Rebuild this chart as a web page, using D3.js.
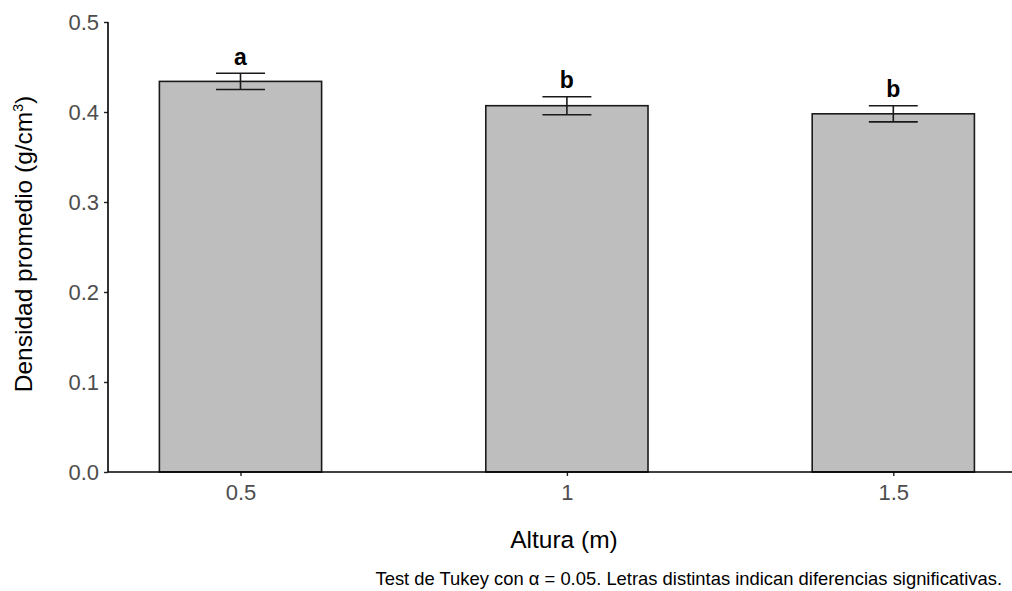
<!DOCTYPE html>
<html>
<head>
<meta charset="utf-8">
<script src="https://cdn.jsdelivr.net/npm/d3@7"></script>
<style>
  html, body { margin: 0; padding: 0; background: #fff; }
  svg { display: block; }
  text { font-family: "Liberation Sans", Arial, sans-serif; }
</style>
</head>
<body>
<svg id="chart" width="1012" height="591"></svg>
<script>
const categories = ["0.5", "1", "1.5"];
const means = [0.434, 0.407, 0.398];
const errors = [0.009, 0.010, 0.009];
const letters = ["a", "b", "b"];
const yTickValues = [0, 0.1, 0.2, 0.3, 0.4, 0.5];
const yTickLabels = ["0.0", "0.1", "0.2", "0.3", "0.4", "0.5"];
const xTitle = "Altura (m)";
const caption = "Test de Tukey con \u03B1 = 0.05. Letras distintas indican diferencias significativas.";

const data = categories.map((c, i) => ({ cat: c, mean: means[i], se: errors[i], letter: letters[i] }));

const svg = d3.select("#chart");
const axisX = 108, axisY = 472, topY = 22, rightX = 1012;

const x = d3.scalePoint().domain(categories).range([240.5, 893.3]);
const step = x.step();
const y = d3.scaleLinear().domain([0, 0.5]).range([axisY, topY]);

const barW = step * 0.497;
const capW = step * 0.15;

// bars
svg.append("g").selectAll("rect").data(data).join("rect")
  .attr("x", d => x(d.cat) - barW / 2)
  .attr("y", d => y(d.mean))
  .attr("width", barW)
  .attr("height", d => y(0) - y(d.mean))
  .attr("fill", "#bebebe")
  .attr("stroke", "#1a1a1a")
  .attr("stroke-width", 1.6);

// error bars
const eb = svg.append("g").attr("stroke", "#1a1a1a").attr("stroke-width", 1.6).attr("fill", "none");
data.forEach(d => {
  const cx = x(d.cat);
  eb.append("line").attr("x1", cx).attr("x2", cx).attr("y1", y(d.mean + d.se)).attr("y2", y(d.mean - d.se));
  eb.append("line").attr("x1", cx - capW / 2).attr("x2", cx + capW / 2).attr("y1", y(d.mean + d.se)).attr("y2", y(d.mean + d.se));
  eb.append("line").attr("x1", cx - capW / 2).attr("x2", cx + capW / 2).attr("y1", y(d.mean - d.se)).attr("y2", y(d.mean - d.se));
});

// letters
svg.append("g").selectAll("text").data(data).join("text")
  .attr("x", d => x(d.cat))
  .attr("y", d => y(d.mean + d.se) - 8.5)
  .attr("text-anchor", "middle")
  .attr("font-size", 23)
  .attr("font-weight", "bold")
  .attr("fill", "#000")
  .text(d => d.letter);

// y axis
const yAxis = d3.axisLeft(y).tickValues(yTickValues).tickFormat((d, i) => yTickLabels[i]).tickSize(4).tickPadding(5);
const gy = svg.append("g").attr("transform", `translate(${axisX},0)`).call(yAxis);
gy.select(".domain").remove();
gy.selectAll(".tick line").attr("stroke", "#222").attr("stroke-width", 1.4);
gy.selectAll(".tick text").attr("font-size", 22).attr("fill", "#4d4d4d").attr("font-family", "Liberation Sans, Arial, sans-serif");

// x axis
const xAxis = d3.axisBottom(x).tickSize(4).tickPadding(8);
const gx = svg.append("g").attr("transform", `translate(0,${axisY})`).call(xAxis);
gx.select(".domain").remove();
gx.selectAll(".tick line").attr("stroke", "#222").attr("stroke-width", 1.4);
gx.selectAll(".tick text").attr("font-size", 22).attr("fill", "#4d4d4d").attr("font-family", "Liberation Sans, Arial, sans-serif");

// axis lines
svg.append("line").attr("x1", axisX).attr("x2", axisX).attr("y1", topY).attr("y2", axisY)
  .attr("stroke", "#000").attr("stroke-width", 1.6);
svg.append("line").attr("x1", axisX).attr("x2", rightX).attr("y1", axisY).attr("y2", axisY)
  .attr("stroke", "#000").attr("stroke-width", 1.6);

// titles
svg.append("text").attr("x", 564).attr("y", 548).attr("text-anchor", "middle")
  .attr("font-size", 24.5).attr("fill", "#000").text(xTitle);

const yt = svg.append("text").attr("transform", "translate(32,244) rotate(-90)")
  .attr("text-anchor", "middle").attr("font-size", 24.5).attr("fill", "#000");
yt.append("tspan").text("Densidad promedio (g/cm");
yt.append("tspan").attr("font-size", 14).attr("dy", -9).text("3");
yt.append("tspan").attr("dy", 9).text(")");

// caption
svg.append("text").attr("x", 1002).attr("y", 585).attr("text-anchor", "end")
  .attr("font-size", 18.4).attr("fill", "#000").text(caption);
</script>
</body>
</html>
